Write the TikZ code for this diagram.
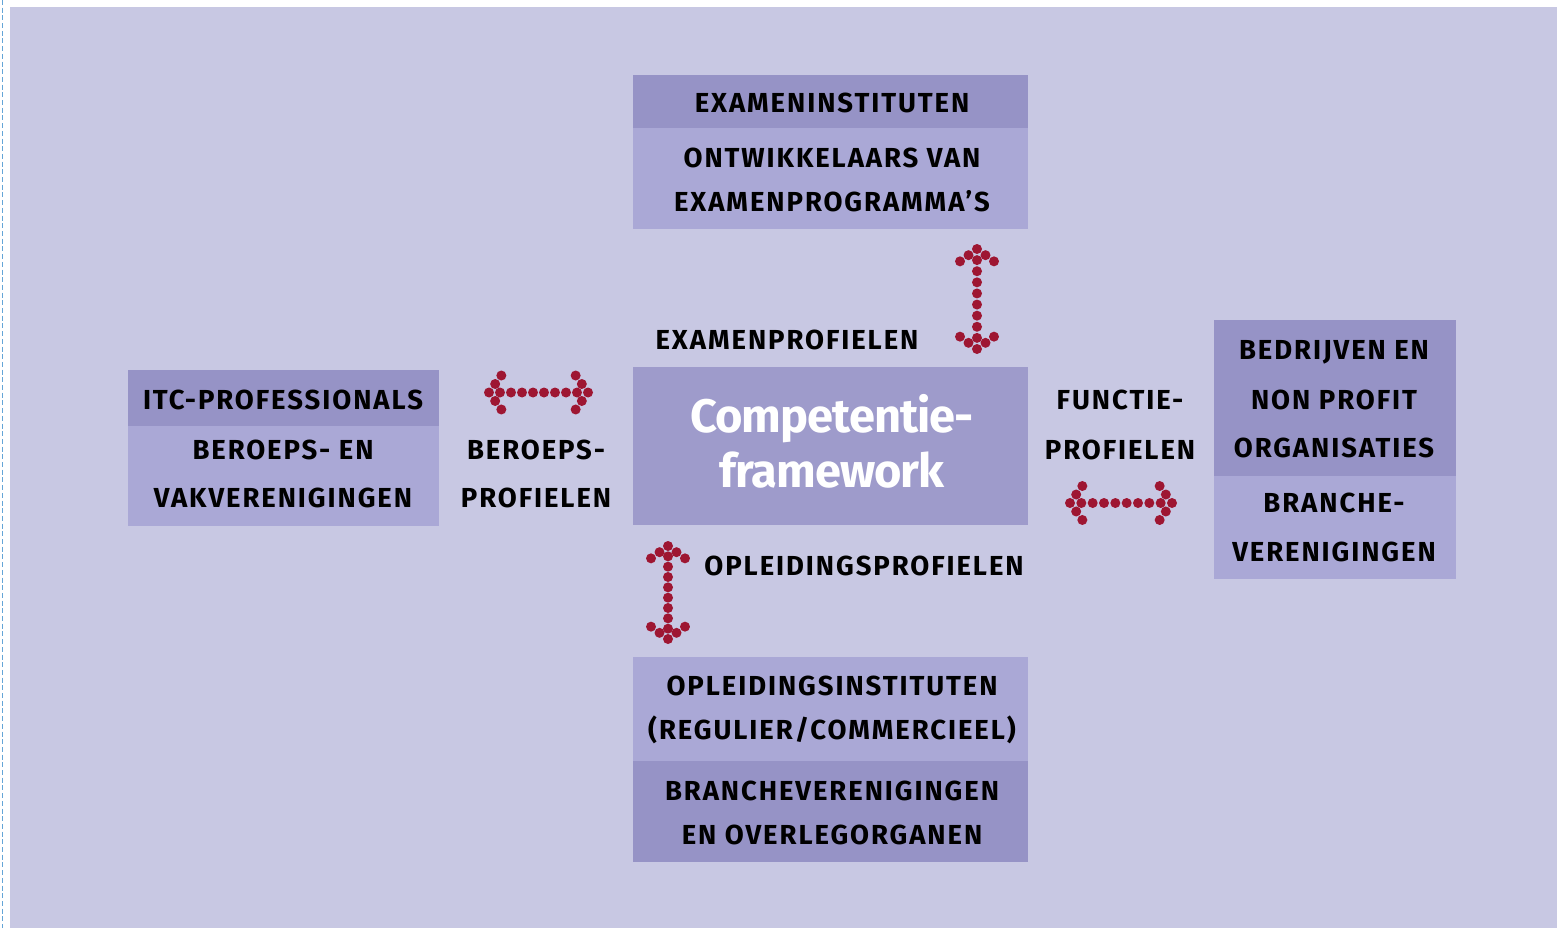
\documentclass[tikz,border=0pt]{standalone}
\usepackage{fontspec}
\setmainfont{Fira Sans}
\usetikzlibrary{calc}
\definecolor{bgc}{RGB}{200,200,227}
\definecolor{darkbox}{RGB}{150,147,198}
\definecolor{lightbox}{RGB}{170,168,214}
\definecolor{centerbox}{RGB}{158,155,203}
\definecolor{dotred}{RGB}{158,22,50}
\definecolor{dashblue}{RGB}{100,165,215}
\newfontfamily\lblfont[LetterSpace=7]{Fira Sans}
\newfontfamily\bigfont[LetterSpace=-2]{Fira Sans}
\tikzset{
  panel/.style={draw=none, inner sep=0pt, outer sep=0pt, anchor=north west},
  lbl/.style={font=\lblfont\fontsize{27.5}{30}\selectfont\bfseries, anchor=base, inner sep=0pt, text=black},
  big/.style={font=\bigfont\fontsize{47}{50}\selectfont\bfseries, anchor=base, inner sep=0pt, text=white},
}
\newcommand\dotarrow[2]{%
  \foreach \i in {0,...,9} \fill[dotred] ($(#1)!\i/9!(#2)$) circle (5pt);
  \foreach \e/\f in {#1/#2,#2/#1} {
    \foreach \ang in {54,-54} {
      \fill[dotred] ($(\e)!10.5pt!\ang:(\f)$) circle (5pt);
      \fill[dotred] ($(\e)!21pt!\ang:(\f)$) circle (5pt);
    }
  }%
}
\begin{document}
\begin{tikzpicture}[x=1pt,y=-1pt]
\useasboundingbox (0,0) rectangle (1557,928);
\fill[bgc] (10,7) rectangle (1557,928);
\draw[dashblue, line width=1.3pt, dash pattern=on 5pt off 2.7pt] (2.5,0) -- (2.5,928);

% top box
\node[panel, fill=darkbox, minimum width=395pt, minimum height=53pt] (topA) at (633,75) {};
\node[panel, fill=lightbox, minimum width=395pt, minimum height=101pt] (topB) at (633,128) {};
\node[lbl] (t1) at (832,112.5) {EXAMENINSTITUTEN};
\node[lbl] (t2) at (832,167.5) {ONTWIKKELAARS VAN};
\node[lbl] (t3) at (832,211.5) {EXAMENPROGRAMMA’S};

% left box
\node[panel, fill=darkbox, minimum width=311pt, minimum height=56pt] (leftA) at (128,370) {};
\node[panel, fill=lightbox, minimum width=311pt, minimum height=100pt] (leftB) at (128,426) {};
\node[lbl] (l1) at (283,409.5) {ITC-PROFESSIONALS};
\node[lbl] (l2) at (283,459.5) {BEROEPS- EN};
\node[lbl] (l3) at (283,507.5) {VAKVERENIGINGEN};

% centre box
\node[panel, fill=centerbox, minimum width=395pt, minimum height=158pt] (centre) at (633,367) {};
\node[big] (c1) at (832,432) {Competentie-};
\node[big] (c2) at (832,487) {framework};

% right box
\node[panel, fill=darkbox, minimum width=242pt, minimum height=156pt] (rightA) at (1214,320) {};
\node[panel, fill=lightbox, minimum width=242pt, minimum height=103pt] (rightB) at (1214,476) {};
\node[lbl] (r1) at (1334,359.5) {BEDRIJVEN EN};
\node[lbl] (r2) at (1334,409.5) {NON PROFIT};
\node[lbl] (r3) at (1334,457.5) {ORGANISATIES};
\node[lbl] (r4) at (1334,512.5) {BRANCHE-};
\node[lbl] (r5) at (1334,561.5) {VERENIGINGEN};

% bottom box
\node[panel, fill=lightbox, minimum width=395pt, minimum height=104pt] (botA) at (633,657) {};
\node[panel, fill=darkbox, minimum width=395pt, minimum height=101pt] (botB) at (633,761) {};
\node[lbl] (b1) at (832,695.5) {OPLEIDINGSINSTITUTEN};
\node[lbl] (b2) at (832,739.5) {(REGULIER/COMMERCIEEL)};
\node[lbl] (b3) at (832,800.5) {BRANCHEVERENIGINGEN};
\node[lbl] (b4) at (832,844.5) {EN OVERLEGORGANEN};

% relation labels
\node[lbl] (p1) at (787,349.5) {EXAMENPROFIELEN};
\node[lbl] (p2) at (536,459.5) {BEROEPS-};
\node[lbl] (p3) at (536,507.5) {PROFIELEN};
\node[lbl] (p4) at (1120,409.5) {FUNCTIE-};
\node[lbl] (p5) at (1120,459.5) {PROFIELEN};
\node[lbl] (p6) at (864,575.5) {OPLEIDINGSPROFIELEN};

% arrows
\coordinate (aL1) at (489,392.5);
\coordinate (aL2) at (588,392.5);
\coordinate (aT1) at (977,249);
\coordinate (aT2) at (977,349);
\coordinate (aR1) at (1070,503);
\coordinate (aR2) at (1172,503);
\coordinate (aB1) at (668,546);
\coordinate (aB2) at (668,639);
\dotarrow{aL1}{aL2}
\dotarrow{aT1}{aT2}
\dotarrow{aR1}{aR2}
\dotarrow{aB1}{aB2}
\end{tikzpicture}
\end{document}
